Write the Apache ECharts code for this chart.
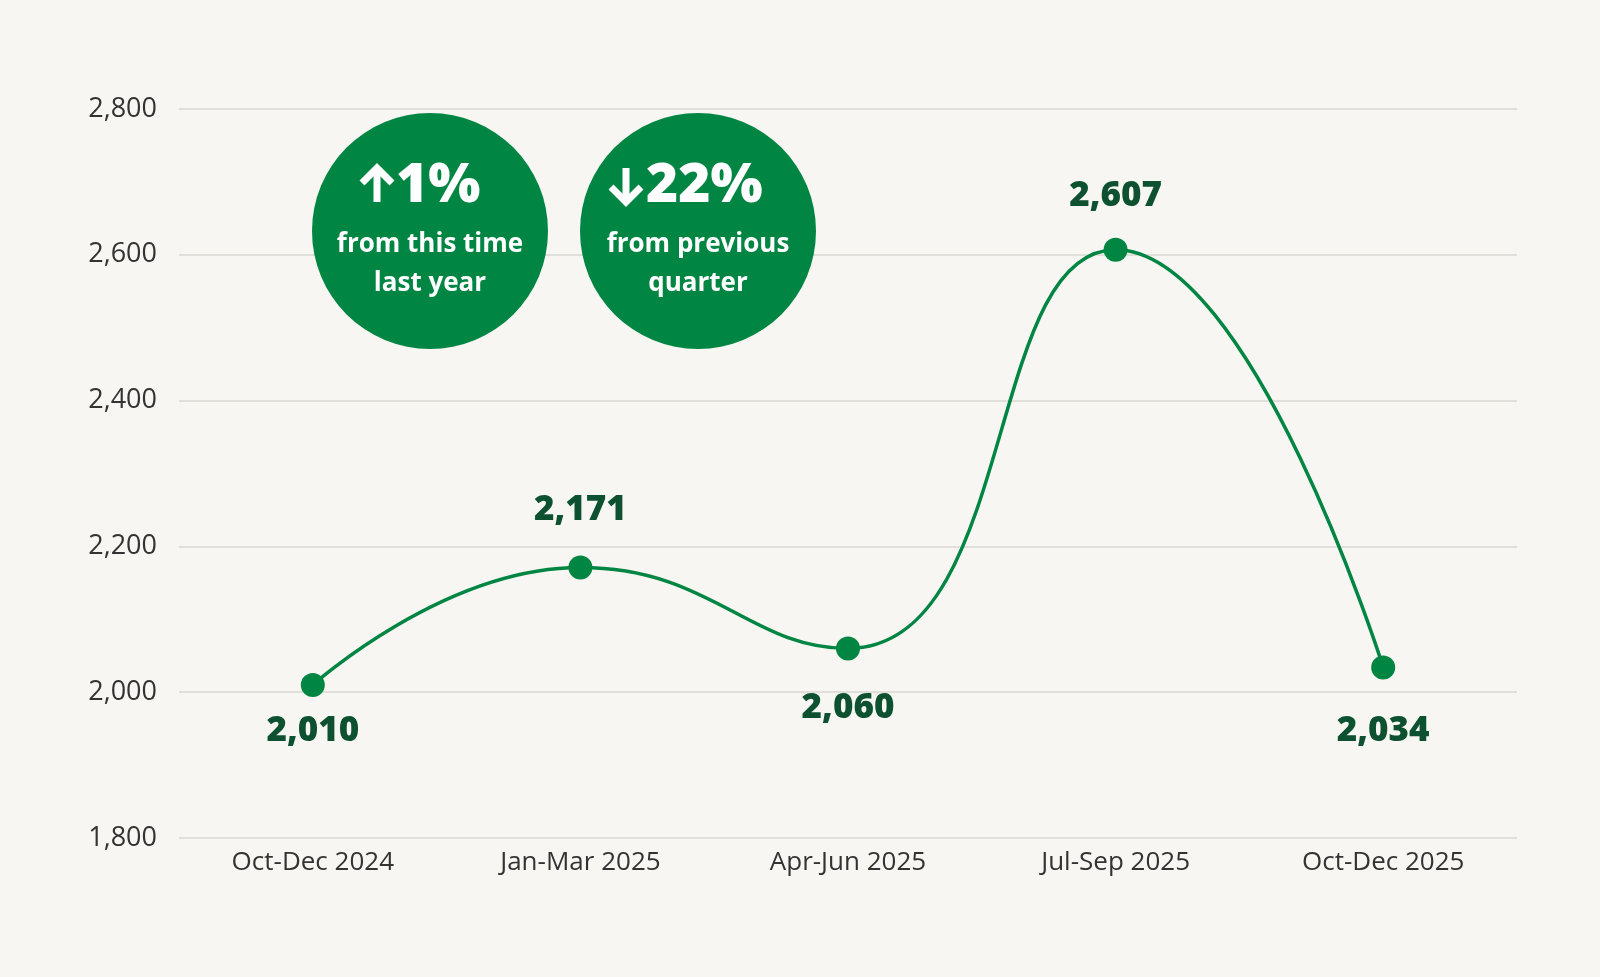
<!DOCTYPE html>
<html>
<head>
<meta charset="utf-8">
<script src="https://cdn.jsdelivr.net/npm/echarts@6/dist/echarts.min.js"></script>
<style>
html,body{margin:0;padding:0;background:#f7f6f2;}
#chart{width:1600px;height:977px;}
</style>
</head>
<body>
<div id="chart"></div>
<script>
const categories = ['Oct-Dec 2024', 'Jan-Mar 2025', 'Apr-Jun 2025', 'Jul-Sep 2025', 'Oct-Dec 2025'];
const values = [2010, 2171, 2060, 2607, 2034];
const labelSides = ['bottom', 'top', 'bottom', 'top', 'bottom'];
const labelGaps = [17, 28, 30, 24, 34];
const yTicks = { min: 1800, max: 2800, interval: 200 };
const badges = [
  { dir: 'up', big: '1%', line1: 'from this time', line2: 'last year' },
  { dir: 'down', big: '22%', line1: 'from previous', line2: 'quarter' }
];

const FONT = '"Open Sans", Lato, "DejaVu Sans", sans-serif';
const chart = echarts.init(document.getElementById('chart'));

// badge layout (decoration)
const badgeLayout = [
  { cx: 430, cy: 231, ax: 377, tx: 396 },
  { cx: 698, cy: 231, ax: 626, tx: 646 }
];
const graphics = [];
badges.forEach((b, i) => {
  const L = badgeLayout[i];
  const top = 168, bot = 202, hw = 15, hh = 15;
  const arrowStyle = { stroke: '#ffffff', lineWidth: 7, fill: null, lineJoin: 'miter', lineCap: 'butt' };
  let shaft, head;
  if (b.dir === 'up') {
    shaft = [[L.ax, top + 4], [L.ax, bot]];
    head = [[L.ax - hw, top + hh], [L.ax, top], [L.ax + hw, top + hh]];
  } else {
    shaft = [[L.ax, top], [L.ax, bot - 4]];
    head = [[L.ax - hw, bot - hh], [L.ax, bot], [L.ax + hw, bot - hh]];
  }
  graphics.push(
    { type: 'circle', z: 100, shape: { cx: L.cx, cy: L.cy, r: 118 }, style: { fill: '#008542' } },
    { type: 'polyline', z: 101, shape: { points: shaft }, style: arrowStyle },
    { type: 'polyline', z: 101, shape: { points: head }, style: arrowStyle },
    { type: 'text', z: 101, x: L.tx, y: 186, style: { text: b.big, fill: '#ffffff', font: '800 55px ' + FONT, align: 'left', verticalAlign: 'middle' } },
    { type: 'text', z: 101, x: L.cx, y: 245, style: { text: b.line1, fill: '#ffffff', font: 'bold 26px ' + FONT, align: 'center', verticalAlign: 'middle' } },
    { type: 'text', z: 101, x: L.cx, y: 284, style: { text: b.line2, fill: '#ffffff', font: 'bold 26px ' + FONT, align: 'center', verticalAlign: 'middle' } }
  );
});

chart.setOption({
  backgroundColor: '#f7f6f2',
  animation: false,
  grid: { left: 179, right: 83, top: 109, bottom: 139, containLabel: false },
  xAxis: {
    type: 'category',
    data: categories,
    boundaryGap: true,
    axisLine: { show: false },
    axisTick: { show: false },
    axisLabel: { color: '#333333', fontSize: 26, fontFamily: FONT, margin: 12 }
  },
  yAxis: {
    type: 'value',
    min: yTicks.min, max: yTicks.max, interval: yTicks.interval,
    axisLine: { show: false },
    axisTick: { show: false },
    splitLine: { lineStyle: { color: '#d9d7d2', width: 1.5 } },
    axisLabel: {
      color: '#333333', fontSize: 27, fontFamily: FONT, margin: 22,
      formatter: v => v.toLocaleString('en-US')
    }
  },
  series: [{
    type: 'line',
    data: values.map((v, i) => ({
      value: v,
      label: { position: labelSides[i], distance: labelGaps[i] }
    })),
    smooth: 0.5,
    symbol: 'circle',
    symbolSize: 24,
    itemStyle: { color: '#008542' },
    lineStyle: { color: '#008542', width: 3.5 },
    label: {
      show: true,
      color: '#0d5130',
      fontSize: 35,
      fontWeight: 800,
      fontFamily: FONT,
      formatter: p => p.value.toLocaleString('en-US')
    }
  }],
  graphic: graphics
});
</script>
</body>
</html>
